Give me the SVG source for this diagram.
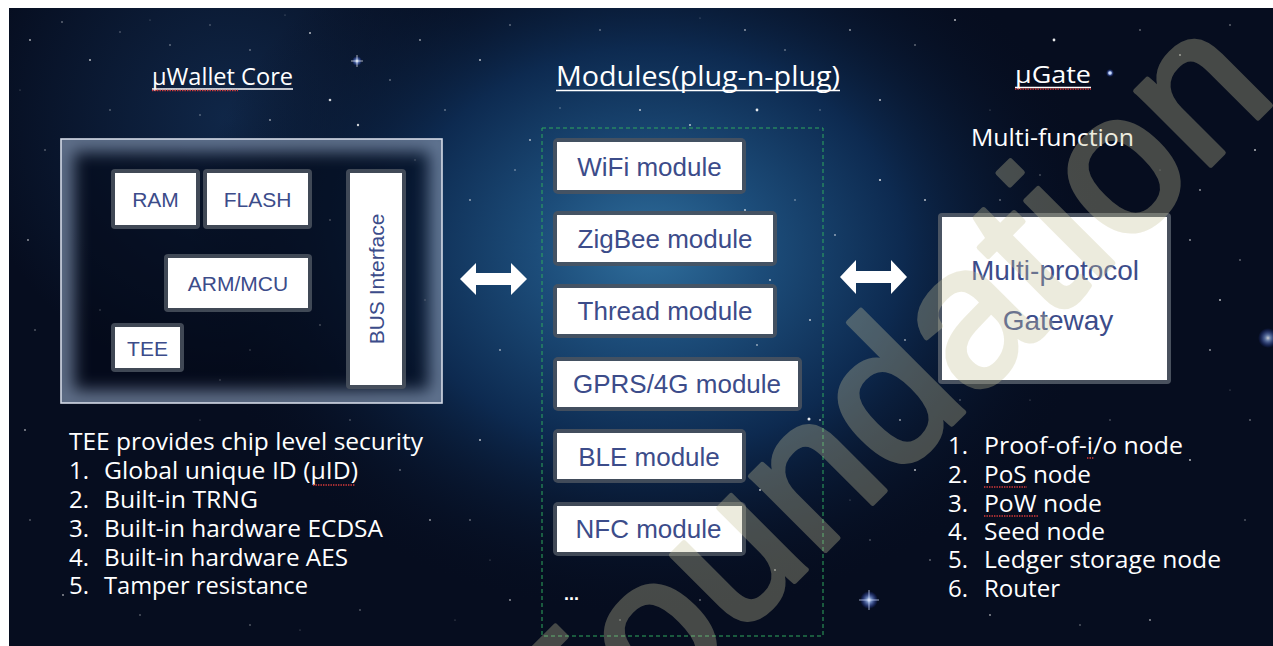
<svg xmlns="http://www.w3.org/2000/svg" width="1273" height="646" viewBox="0 0 1273 646">
<defs>
<style>
.w{fill:#ffffff;font-family:"Open Sans","Noto Sans","DejaVu Sans",sans-serif;}
.lst{font-size:24px;}
.bx{fill:#3c4c8a;font-family:"Liberation Sans",Arial,sans-serif;text-anchor:middle;}
.frame{fill:#4b535f;fill-opacity:0.85;}
.wb{fill:#ffffff;}
.ul{stroke:#ffffff;stroke-width:1.4;}
.sq{stroke:#d83a3a;stroke-width:1.3;stroke-dasharray:1.4 1.1;fill:none;}
.star{fill:#ffffff;}
.arr{fill:#ffffff;}
</style>
<radialGradient id="neb" cx="650" cy="250" r="460" gradientUnits="userSpaceOnUse" gradientTransform="translate(650 250) scale(1 0.8) translate(-650 -250)">
<stop offset="0" stop-color="#2f6e9c"/>
<stop offset="0.25" stop-color="#1c4c79"/>
<stop offset="0.55" stop-color="#0d2a50"/>
<stop offset="1" stop-color="#060d1f" stop-opacity="0"/>
</radialGradient>
<radialGradient id="neb2" cx="230" cy="120" r="260" gradientUnits="userSpaceOnUse">
<stop offset="0" stop-color="#14325a" stop-opacity="0.7"/>
<stop offset="1" stop-color="#14325a" stop-opacity="0"/>
</radialGradient>
<radialGradient id="flare" cx="0.5" cy="0.5" r="0.5">
<stop offset="0" stop-color="#ffffff"/>
<stop offset="0.3" stop-color="#9fc0ff" stop-opacity="0.7"/>
<stop offset="1" stop-color="#3050ff" stop-opacity="0"/>
</radialGradient>
<clipPath id="coreClip"><rect x="61" y="139" width="381" height="264"/></clipPath>
<filter id="blur8" x="-20%" y="-20%" width="140%" height="140%"><feGaussianBlur stdDeviation="8"/></filter>
</defs>

<rect x="0" y="0" width="1273" height="646" fill="#ffffff"/>
<g id="background">
<rect x="9" y="8" width="1264" height="638" fill="#060d1f"/>
<rect x="9" y="8" width="1264" height="638" fill="url(#neb2)"/>
<rect x="9" y="8" width="1264" height="638" fill="url(#neb)"/>
<g class="star">
<circle cx="30" cy="40" r="0.9" opacity="0.7"/><circle cx="62" cy="22" r="0.8" opacity="0.6"/><circle cx="90" cy="60" r="1" opacity="0.7"/>
<circle cx="120" cy="32" r="0.7" opacity="0.5"/><circle cx="170" cy="45" r="0.8" opacity="0.6"/><circle cx="210" cy="25" r="0.7" opacity="0.5"/>
<circle cx="250" cy="50" r="0.8" opacity="0.6"/><circle cx="310" cy="33" r="1" opacity="0.7"/><circle cx="330" cy="100" r="1.3" opacity="0.8"/>
<circle cx="358" cy="125" r="1.2" opacity="0.8"/><circle cx="390" cy="80" r="0.8" opacity="0.6"/><circle cx="420" cy="40" r="0.9" opacity="0.6"/>
<circle cx="445" cy="110" r="0.8" opacity="0.6"/><circle cx="480" cy="60" r="1" opacity="0.7"/><circle cx="510" cy="25" r="0.8" opacity="0.6"/>
<circle cx="530" cy="140" r="0.9" opacity="0.7"/><circle cx="600" cy="30" r="0.8" opacity="0.6"/><circle cx="640" cy="110" r="1" opacity="0.7"/>
<circle cx="690" cy="125" r="1" opacity="0.7"/><circle cx="745" cy="30" r="0.9" opacity="0.6"/><circle cx="757" cy="110" r="1.4" opacity="0.9"/>
<circle cx="785" cy="50" r="0.8" opacity="0.6"/><circle cx="850" cy="30" r="0.9" opacity="0.6"/><circle cx="880" cy="100" r="1" opacity="0.7"/>
<circle cx="915" cy="45" r="0.8" opacity="0.6"/><circle cx="955" cy="20" r="1" opacity="0.7"/><circle cx="1054" cy="40" r="1.4" opacity="0.9"/>
<circle cx="1110" cy="73" r="1.8" opacity="0.95"/><circle cx="1140" cy="30" r="0.8" opacity="0.6"/><circle cx="1180" cy="55" r="0.9" opacity="0.6"/>
<circle cx="1230" cy="25" r="0.8" opacity="0.6"/><circle cx="1255" cy="150" r="1" opacity="0.7"/><circle cx="1200" cy="190" r="0.9" opacity="0.6"/>
<circle cx="1240" cy="260" r="0.8" opacity="0.6"/><circle cx="1210" cy="350" r="0.9" opacity="0.6"/><circle cx="1250" cy="420" r="0.8" opacity="0.6"/>
<circle cx="1190" cy="460" r="1" opacity="0.7"/><circle cx="1245" cy="520" r="0.8" opacity="0.5"/><circle cx="1150" cy="620" r="0.9" opacity="0.6"/>
<circle cx="1080" cy="625" r="0.8" opacity="0.5"/><circle cx="990" cy="615" r="0.9" opacity="0.6"/><circle cx="930" cy="560" r="0.8" opacity="0.6"/>
<circle cx="915" cy="470" r="1" opacity="0.7"/><circle cx="900" cy="420" r="0.9" opacity="0.6"/><circle cx="925" cy="200" r="1" opacity="0.7"/>
<circle cx="905" cy="340" r="0.9" opacity="0.6"/><circle cx="880" cy="180" r="1.1" opacity="0.8"/><circle cx="835" cy="235" r="0.9" opacity="0.6"/>
<circle cx="810" cy="320" r="1" opacity="0.7"/><circle cx="820" cy="420" r="0.9" opacity="0.6"/><circle cx="809" cy="419" r="1.5" opacity="0.9"/>
<circle cx="760" cy="490" r="1" opacity="0.7"/><circle cx="775" cy="570" r="0.9" opacity="0.6"/><circle cx="700" cy="600" r="0.8" opacity="0.6"/>
<circle cx="620" cy="620" r="0.8" opacity="0.5"/><circle cx="510" cy="600" r="0.9" opacity="0.6"/><circle cx="470" cy="520" r="0.8" opacity="0.6"/>
<circle cx="480" cy="440" r="1" opacity="0.7"/><circle cx="500" cy="350" r="0.9" opacity="0.6"/><circle cx="470" cy="200" r="0.9" opacity="0.6"/>
<circle cx="515" cy="170" r="0.8" opacity="0.6"/><circle cx="745" cy="210" r="1" opacity="0.7"/><circle cx="770" cy="280" r="1" opacity="0.7"/>
<circle cx="757" cy="345" r="0.9" opacity="0.6"/><circle cx="795" cy="200" r="0.8" opacity="0.6"/><circle cx="400" cy="470" r="0.8" opacity="0.6"/>
<circle cx="430" cy="520" r="0.9" opacity="0.6"/><circle cx="360" cy="610" r="0.8" opacity="0.5"/><circle cx="250" cy="625" r="0.8" opacity="0.5"/>
<circle cx="140" cy="615" r="0.8" opacity="0.5"/><circle cx="63" cy="595" r="0.9" opacity="0.6"/><circle cx="30" cy="520" r="0.8" opacity="0.5"/>
<circle cx="25" cy="430" r="0.9" opacity="0.6"/><circle cx="35" cy="330" r="0.8" opacity="0.5"/><circle cx="28" cy="240" r="0.9" opacity="0.6"/>
<circle cx="45" cy="150" r="0.8" opacity="0.5"/><circle cx="110" cy="110" r="0.8" opacity="0.5"/><circle cx="200" cy="115" r="0.8" opacity="0.5"/>
<circle cx="270" cy="120" r="0.9" opacity="0.6"/><circle cx="300" cy="290" r="0.8" opacity="0.6"/><circle cx="330" cy="220" r="0.9" opacity="0.6"/>
<circle cx="100" cy="310" r="0.8" opacity="0.6"/><circle cx="220" cy="380" r="0.8" opacity="0.6"/><circle cx="250" cy="350" r="0.8" opacity="0.6"/>
<circle cx="320" cy="325" r="0.9" opacity="0.6"/><circle cx="415" cy="160" r="0.8" opacity="0.6"/><circle cx="425" cy="300" r="0.8" opacity="0.6"/>
<circle cx="1000" cy="200" r="0.8" opacity="0.6"/><circle cx="1190" cy="240" r="0.9" opacity="0.6"/><circle cx="1220" cy="300" r="1" opacity="0.7"/>
<circle cx="150" cy="20" r="0.6" opacity="0.4"/><circle cx="285" cy="15" r="0.6" opacity="0.4"/><circle cx="560" cy="108" r="0.7" opacity="0.5"/>
<circle cx="610" cy="75" r="0.6" opacity="0.4"/><circle cx="700" cy="18" r="0.6" opacity="0.4"/><circle cx="820" cy="110" r="0.7" opacity="0.5"/>
<circle cx="990" cy="110" r="0.6" opacity="0.4"/><circle cx="1040" cy="175" r="0.7" opacity="0.5"/><circle cx="1160" cy="170" r="0.6" opacity="0.4"/>
<circle cx="1230" cy="390" r="0.6" opacity="0.4"/><circle cx="1110" cy="420" r="0.7" opacity="0.5"/><circle cx="1030" cy="400" r="0.6" opacity="0.4"/>
<circle cx="960" cy="400" r="0.7" opacity="0.5"/><circle cx="850" cy="500" r="0.6" opacity="0.4"/><circle cx="870" cy="540" r="0.7" opacity="0.5"/>
<circle cx="490" cy="560" r="0.6" opacity="0.4"/><circle cx="455" cy="620" r="0.6" opacity="0.4"/><circle cx="300" cy="630" r="0.6" opacity="0.4"/>
<circle cx="200" cy="420" r="0.6" opacity="0.4"/><circle cx="350" cy="420" r="0.7" opacity="0.5"/><circle cx="20" cy="90" r="0.6" opacity="0.4"/>
</g>
<circle cx="357" cy="61" r="5" fill="url(#flare)"/>
<path d="M351,61 H363 M357,55 V67" stroke="#ffffff" stroke-width="0.8" opacity="0.8"/>
<circle cx="869" cy="600" r="9" fill="url(#flare)"/>
<path d="M859,600 H879 M869,590 V610" stroke="#cfdcff" stroke-width="0.9" opacity="0.8"/>
<circle cx="1268" cy="338" r="10" fill="url(#flare)" opacity="0.8"/>
<circle cx="1110" cy="73" r="4" fill="url(#flare)"/>
</g>

<g id="titles">
<text class="w" x="152" y="85" font-size="23" textLength="141" lengthAdjust="spacingAndGlyphs">µWallet Core</text>
<line class="ul" x1="152" y1="89" x2="293" y2="89"/>
<path class="sq" d="M152,90.5 H238"/>
<text class="w" x="556" y="86" font-size="28" textLength="284" lengthAdjust="spacingAndGlyphs">Modules(plug-n-plug)</text>
<line class="ul" x1="556" y1="90.5" x2="840" y2="90.5"/>
<text class="w" x="1015" y="83" font-size="24" textLength="76" lengthAdjust="spacingAndGlyphs">µGate</text>
<line class="ul" x1="1015" y1="87.5" x2="1091" y2="87.5"/>
<path class="sq" d="M1015,89 H1091"/>
<text class="w" x="971" y="146" font-size="24" textLength="163" lengthAdjust="spacingAndGlyphs">Multi-function</text>
</g>

<g id="core">
<rect x="61" y="139" width="381" height="264" fill="#040a18" fill-opacity="0.55"/>
<g clip-path="url(#coreClip)">
<rect x="61" y="139" width="381" height="264" fill="none" stroke="#a8c0e0" stroke-width="26" stroke-opacity="0.55" filter="url(#blur8)"/>
</g>
<rect x="61" y="139" width="381" height="264" fill="none" stroke="#d4dae6" stroke-width="1.6"/>
</g>
<g id="ram">
<rect class="frame" x="111" y="169" width="89" height="60" rx="4"/>
<rect class="wb" x="115" y="173" width="81" height="52"/>
<text class="bx" x="155.5" y="206.5" font-size="21">RAM</text>
</g>
<g id="flash">
<rect class="frame" x="203" y="169" width="109" height="60" rx="4"/>
<rect class="wb" x="207" y="173" width="101" height="52"/>
<text class="bx" x="257.5" y="206.5" font-size="21">FLASH</text>
</g>
<g id="armmcu">
<rect class="frame" x="164" y="254" width="148" height="58" rx="4"/>
<rect class="wb" x="168" y="258" width="140" height="50"/>
<text class="bx" x="238" y="291" font-size="21">ARM/MCU</text>
</g>
<g id="tee">
<rect class="frame" x="111" y="323" width="73" height="49" rx="4"/>
<rect class="wb" x="115" y="327" width="65" height="41"/>
<text class="bx" x="147.5" y="355.5" font-size="21">TEE</text>
</g>
<g id="bus">
<rect class="frame" x="346" y="169" width="60" height="220" rx="4"/>
<rect class="wb" x="350" y="173" width="52" height="212"/>
<text class="bx" transform="translate(383.5 279) rotate(-90)" x="0" y="0" font-size="21">BUS Interface</text>
</g>

<g id="tee-list" class="w lst">
<text x="69" y="450" textLength="354" lengthAdjust="spacingAndGlyphs">TEE provides chip level security</text>
<text x="69" y="479">1.</text><text x="104" y="479" textLength="254" lengthAdjust="spacingAndGlyphs">Global unique ID (µID)</text>
<text x="69" y="508">2.</text><text x="104" y="508" textLength="154" lengthAdjust="spacingAndGlyphs">Built-in TRNG</text>
<text x="69" y="537">3.</text><text x="104" y="537" textLength="279" lengthAdjust="spacingAndGlyphs">Built-in hardware ECDSA</text>
<text x="69" y="566">4.</text><text x="104" y="566" textLength="244" lengthAdjust="spacingAndGlyphs">Built-in hardware AES</text>
<text x="69" y="594">5.</text><text x="104" y="594" textLength="204" lengthAdjust="spacingAndGlyphs">Tamper resistance</text>
<path class="sq" d="M313,485 H355"/>
</g>

<g id="modules">
<rect x="542" y="128" width="281" height="508" fill="none" stroke="#2fa85e" stroke-width="1" stroke-dasharray="4 3"/>
</g>
<g id="wifi">
<rect class="frame" x="553" y="138" width="193" height="56" rx="5"/>
<rect class="wb" x="557" y="142" width="185" height="48"/>
<text class="bx" x="649.5" y="175.5" font-size="26">WiFi module</text>
</g>
<g id="zigbee">
<rect class="frame" x="553" y="211" width="224" height="55" rx="5"/>
<rect class="wb" x="557" y="215" width="216" height="47"/>
<text class="bx" x="665" y="247.5" font-size="26">ZigBee module</text>
</g>
<g id="thread">
<rect class="frame" x="553" y="284" width="224" height="54" rx="5"/>
<rect class="wb" x="557" y="288" width="216" height="46"/>
<text class="bx" x="665" y="320" font-size="26">Thread module</text>
</g>
<g id="gprs">
<rect class="frame" x="553" y="357" width="249" height="54" rx="5"/>
<rect class="wb" x="557" y="361" width="241" height="46"/>
<text class="bx" x="677" y="393" font-size="26">GPRS/4G module</text>
</g>
<g id="ble">
<rect class="frame" x="553" y="429" width="193" height="54" rx="5"/>
<rect class="wb" x="557" y="433" width="185" height="46"/>
<text class="bx" x="649" y="465.5" font-size="26">BLE module</text>
</g>
<g id="nfc">
<rect class="frame" x="553" y="502" width="193" height="54" rx="5"/>
<rect class="wb" x="557" y="506" width="185" height="46"/>
<text class="bx" x="648.5" y="538" font-size="26">NFC module</text>
</g>
<g id="more">
<text x="564" y="600" fill="#ffffff" font-family="Liberation Sans, Arial, sans-serif" font-size="18" font-weight="bold">...</text>
</g>

<g id="gateway">
<rect x="938" y="213" width="233" height="171" rx="4" fill="#565e6a" fill-opacity="0.85"/>
<rect class="wb" x="942" y="217" width="225" height="163"/>
<text class="bx" x="1055" y="280" font-size="28">Multi-protocol</text>
<text class="bx" x="1058" y="330" font-size="28">Gateway</text>
</g>

<g id="gate-list" class="w lst">
<text x="948" y="454">1.</text><text x="984" y="454" textLength="199" lengthAdjust="spacingAndGlyphs">Proof-of-i/o node</text>
<text x="948" y="483">2.</text><text x="984" y="483" textLength="107" lengthAdjust="spacingAndGlyphs">PoS node</text>
<text x="948" y="512">3.</text><text x="984" y="512" textLength="118" lengthAdjust="spacingAndGlyphs">PoW node</text>
<text x="948" y="540">4.</text><text x="984" y="540" textLength="121" lengthAdjust="spacingAndGlyphs">Seed node</text>
<text x="948" y="568">5.</text><text x="984" y="568" textLength="237" lengthAdjust="spacingAndGlyphs">Ledger storage node</text>
<text x="948" y="597">6.</text><text x="984" y="597" textLength="76" lengthAdjust="spacingAndGlyphs">Router</text>
<path class="sq" d="M1087,458 H1094 M984,487 H1027 M984,516 H1038"/>
</g>

<g id="connectors">
<path class="arr" d="M460,279 L476,263 L476,273 L511,273 L511,263 L527,279 L511,295 L511,285 L476,285 L476,295 Z"/>
<path class="arr" d="M840,277 L856,260 L856,271 L891,271 L891,260 L907,277 L891,294 L891,283 L856,283 L856,294 Z"/>
</g>

<g id="watermark" opacity="0.33">
<text transform="translate(572 804) rotate(-45)" x="0" y="0" font-family="Liberation Sans, Arial, sans-serif" font-size="200" fill="#c8c49a" stroke="#c8c49a" stroke-width="5" stroke-linejoin="round">Foundation</text>
</g>
</svg>
